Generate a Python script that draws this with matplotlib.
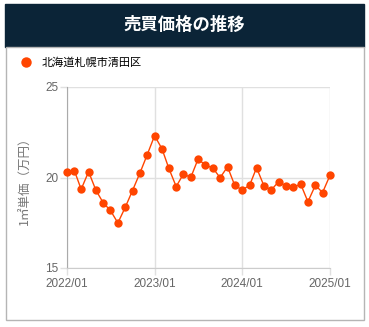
import matplotlib
matplotlib.use("Agg")
import matplotlib.pyplot as plt
from matplotlib.lines import Line2D
from matplotlib.patches import Rectangle
import matplotlib.dates as mdates
import pandas as pd

plt.rcParams['font.family'] = ['Noto Sans CJK JP', 'DejaVu Sans']

title = '売買価格の推移'
area = '北海道札幌市清田区'
ylabel = '1㎡単価（万円）'
months = pd.date_range('2022-01-01', periods=37, freq='MS')
prices = [20.28, 20.37, 19.35, 20.32, 19.31, 18.60, 18.18, 17.49, 18.36, 19.28,
          20.25, 21.25, 22.31, 21.58, 20.52, 19.50, 20.19, 20.01, 21.01, 20.69,
          20.52, 19.99, 20.59, 19.57, 19.31, 19.57, 20.54, 19.53, 19.31, 19.77,
          19.53, 19.46, 19.63, 18.66, 19.57, 19.17, 20.12]
yticks = [15, 20, 25]
xticks = pd.to_datetime(['2022-01-01', '2023-01-01', '2024-01-01', '2025-01-01'])

W, H = 369, 327
fig = plt.figure(figsize=(W / 100, H / 100), dpi=100)
color = '#ff4500'

# header bar and white card behind the axes
fig.patches.append(Rectangle((5 / W, 1 - 47 / H), 359 / W, 43 / H,
                             transform=fig.transFigure, color='#0b2437', zorder=-2))
fig.patches.append(Rectangle((5.5 / W, 1 - 320 / H), 358.5 / W, 273 / H,
                             transform=fig.transFigure, fc='white', ec='#b5b5b5',
                             lw=1, zorder=-2))
fig.text(184.5 / W, 1 - 25 / H, title, color='white', fontsize=12.5,
         fontweight='bold', ha='center', va='center')

ax = fig.add_axes([67 / W, 1 - 268 / H, 263 / W, 181 / H])
ax.set_facecolor('none')
ax.plot(months, prices, color=color, lw=1, marker='o', markersize=6,
        markeredgewidth=0, clip_on=False, zorder=3)

ax.set_ylim(15, 25)
ax.set_xlim(xticks[0], xticks[-1])
ax.set_yticks(yticks)
ax.set_xticks(xticks)
ax.xaxis.set_major_formatter(mdates.DateFormatter('%Y/%m'))
ax.grid(True, color='#e0e0e0', lw=1)
for s in ['top', 'right']:
    ax.spines[s].set_visible(False)
ax.spines['left'].set_color('#aaaaaa')
ax.spines['bottom'].set_color('#cccccc')
ax.tick_params(axis='both', colors='#e0e0e0', length=5, width=1,
               labelcolor='#666666', labelsize=8.5, pad=1)
ax.tick_params(axis='x', pad=2.5)
for lab in ax.get_xticklabels() + ax.get_yticklabels():
    lab.set_family(['Liberation Sans', 'DejaVu Sans'])
ax.set_ylabel(ylabel, color='#777777', fontsize=9, labelpad=10)

handle = Line2D([], [], marker='o', ls='none', color=color, markersize=7.5,
                markeredgewidth=0)
fig.legend([handle], [area], loc='center left',
           bbox_to_anchor=(10 / W, 1 - 63 / H), frameon=False, fontsize=8,
           handletextpad=0.4, borderaxespad=0)

fig.savefig('out.png', dpi=100)
